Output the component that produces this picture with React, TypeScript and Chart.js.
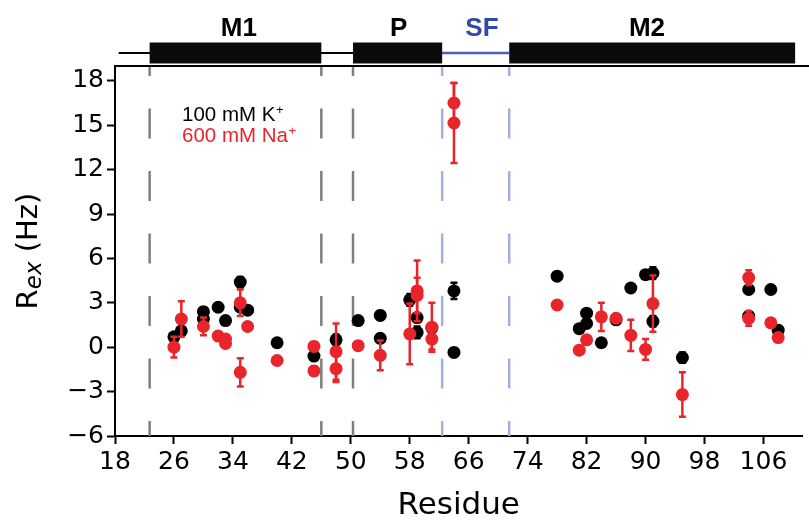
import React, { useEffect, useRef } from "react";
import { Chart, registerables } from "chart.js";

Chart.register(...registerables);

// ---- data ----
const xTicks = [18, 26, 34, 42, 50, 58, 66, 74, 82, 90, 98, 106];
const yTicks = [-6, -3, 0, 3, 6, 9, 12, 15, 18];

const kResidue = [26, 27, 30, 30, 32, 33, 35, 35, 36, 40, 45, 48, 51, 54, 54, 58, 59, 59, 61, 64, 64, 78, 81, 82, 82, 84, 86, 88, 90, 91, 91, 95, 104, 104, 107, 108];
const kRex = [0.7, 1.1, 2.4, 1.9, 2.7, 1.8, 4.4, 2.7, 2.5, 0.3, -0.6, 0.5, 1.8, 2.15, 0.6, 3.2, 2.0, 1.0, 1.3, 3.8, -0.35, 4.8, 1.25, 2.3, 1.6, 0.3, 1.85, 4.0, 4.9, 5.0, 1.75, -0.7, 3.9, 2.1, 3.9, 1.15];
const kErr = [0.2, 0.2, 0.3, 0.2, 0.15, 0.15, 0.35, 0.2, 0.15, 0.1, 0.15, 0.35, 0.1, 0.3, 0.25, 0.4, 0.3, 0.4, 0.3, 0.55, 0.25, 0.1, 0.1, 0.1, 0.1, 0.1, 0.1, 0.15, 0.1, 0.4, 0.35, 0.35, 0.1, 0.25, 0.1, 0.1];

const naResidue = [26, 27, 30, 32, 33, 33, 35, 35, 36, 40, 45, 45, 48, 48, 51, 54, 58, 59, 59, 61, 61, 64, 64, 78, 81, 82, 84, 86, 88, 90, 91, 95, 104, 104, 107, 108];
const naRex = [0.0, 1.9, 1.4, 0.75, 0.55, 0.25, 3.0, -1.7, 1.4, -0.9, 0.05, -1.6, -0.3, -1.45, 0.1, -0.55, 0.9, 3.8, 3.5, 1.35, 0.55, 16.5, 15.15, 2.85, -0.2, 0.5, 2.05, 1.95, 0.8, -0.15, 2.95, -3.2, 4.7, 1.95, 1.65, 0.65];
const naErr = [0.7, 1.2, 0.6, 0.15, 0.15, 0.15, 0.9, 0.95, 0.1, 0.1, 0.3, 0.3, 1.9, 0.9, 0.1, 1.0, 2.05, 2.05, 1.2, 1.65, 0.7, 1.35, 2.7, 0.1, 0.25, 0.15, 0.95, 0.1, 1.05, 0.7, 1.9, 1.5, 0.5, 0.5, 0.1, 0.1];

const greyBoundaries = [22.7, 46.0, 50.3];
const sfBoundaries = [62.4, 71.5];

const domainNames = ["M1", "P", "SF", "M2"];
const domainStart = [22.7, 50.3, 62.4, 71.5];
const domainEnd = [46.0, 62.4, 71.5, 110.3];
const domainLabelAt = [34.8, 56.5, 67.8, 90.2];
const sequenceStart = 18.5;

const seriesLabels = ["100 mM K", "600 mM Na"];

// ---- styles ----
const RED = "#e8252b";
const BLACK = "#000000";
const GREY = "#7f7f7f";
const LIGHTBLUE = "#a7addd";
const SFBLUE = "#3049a8";
const TICKFONT = "'DejaVu Sans', sans-serif";
const ARIAL = "'Liberation Sans', Arial, sans-serif";

const errorBarPlugin = {
  id: "errorBars",
  beforeDatasetDraw(chart: any, args: any) {
    const ds = chart.data.datasets[args.index];
    const errs: number[] | undefined = ds.errors;
    if (!errs) return;
    const xs = chart.scales.x;
    const ys = chart.scales.y;
    const ctx = chart.ctx;
    ctx.save();
    ctx.strokeStyle = ds.backgroundColor;
    ctx.lineWidth = 2.5;
    ds.data.forEach((p: any, i: number) => {
      const e = errs[i];
      if (!e) return;
      const px = xs.getPixelForValue(p.x);
      const top = ys.getPixelForValue(p.y + e);
      const bot = ys.getPixelForValue(p.y - e);
      ctx.beginPath();
      ctx.moveTo(px, top);
      ctx.lineTo(px, bot);
      ctx.moveTo(px - 3.5, top);
      ctx.lineTo(px + 3.5, top);
      ctx.moveTo(px - 3.5, bot);
      ctx.lineTo(px + 3.5, bot);
      ctx.stroke();
    });
    ctx.restore();
  },
};

const decorPlugin = {
  id: "decor",
  afterDraw(chart: any) {
    const ctx = chart.ctx;
    const area = chart.chartArea;
    const xs = chart.scales.x;
    const X = (v: number) => xs.getPixelForValue(v);
    ctx.save();

    // top spine
    ctx.strokeStyle = BLACK;
    ctx.lineWidth = 2;
    ctx.beginPath();
    ctx.moveTo(area.left - 1, area.top);
    ctx.lineTo(chart.width, area.top);
    ctx.stroke();

    // domain bar
    const lineY = 53;
    ctx.lineWidth = 2;
    ctx.strokeStyle = BLACK;
    ctx.beginPath();
    ctx.moveTo(X(sequenceStart), lineY);
    ctx.lineTo(X(domainStart[2]), lineY);
    ctx.stroke();
    ctx.strokeStyle = "#4a5fc0";
    ctx.lineWidth = 2.5;
    ctx.beginPath();
    ctx.moveTo(X(domainStart[2]), lineY);
    ctx.lineTo(X(domainEnd[2]), lineY);
    ctx.stroke();
    domainNames.forEach((name, i) => {
      const a = X(domainStart[i]);
      const b = X(domainEnd[i]);
      ctx.fillStyle = "#0a0a0a";
      if (name !== "SF") ctx.fillRect(a, 42.5, b - a, 21);
      ctx.font = `bold 26px ${ARIAL}`;
      ctx.textAlign = "center";
      ctx.textBaseline = "alphabetic";
      ctx.fillStyle = name === "SF" ? SFBLUE : BLACK;
      ctx.fillText(name, X(domainLabelAt[i]), 36);
    });

    // legend text
    const drawIon = (label: string, color: string, x: number, y: number) => {
      ctx.fillStyle = color;
      ctx.textAlign = "left";
      ctx.textBaseline = "alphabetic";
      ctx.font = `20.5px ${ARIAL}`;
      ctx.fillText(label, x, y);
      const w = ctx.measureText(label).width;
      ctx.font = `13px ${ARIAL}`;
      ctx.fillText("+", x + w + 0.5, y - 7);
    };
    drawIon(seriesLabels[0], BLACK, 182, 121);
    drawIon(seriesLabels[1], RED, 182, 142);

    // y title  R_ex (Hz)
    ctx.fillStyle = BLACK;
    ctx.translate(37, 251);
    ctx.rotate(-Math.PI / 2);
    ctx.textBaseline = "alphabetic";
    ctx.textAlign = "left";
    const big = `29px ${TICKFONT}`;
    const small = `italic 23px ${TICKFONT}`;
    ctx.font = big;
    const r = "R";
    const hz = " (Hz)";
    const rW = ctx.measureText(r).width;
    const hzW = ctx.measureText(hz).width;
    ctx.font = small;
    const exW = ctx.measureText("ex").width;
    const total = rW + exW + hzW;
    let cx = -total / 2;
    ctx.font = big;
    ctx.fillText(r, cx, 0);
    cx += rW;
    ctx.font = small;
    ctx.fillText("ex", cx, 4);
    cx += exW;
    ctx.font = big;
    ctx.fillText(hz, cx, 0);
    ctx.restore();
  },
};

function boundaryDataset(b: number, color: string) {
  return {
    data: [
      { x: b, y: 19 },
      { x: b, y: -6 },
    ],
    showLine: true,
    borderColor: color,
    borderWidth: 2.5,
    borderDash: [30, 32.5],
    borderDashOffset: 20,
    pointRadius: 0,
    order: 2,
  };
}

export default function App() {
  const ref = useRef<HTMLCanvasElement | null>(null);
  useEffect(() => {
    if (!ref.current) return;
    const chart = new Chart(ref.current, {
      type: "scatter",
      data: {
        datasets: [
          {
            label: "600 mM Na+",
            data: naResidue.map((x, i) => ({ x, y: naRex[i] })),
            backgroundColor: RED,
            borderWidth: 0,
            pointRadius: 6.5,
            pointHoverRadius: 6.5,
            order: 0,
            errors: naErr,
          } as any,
          {
            label: "100 mM K+",
            data: kResidue.map((x, i) => ({ x, y: kRex[i] })),
            backgroundColor: BLACK,
            borderWidth: 0,
            pointRadius: 6.5,
            pointHoverRadius: 6.5,
            order: 1,
            errors: kErr,
          } as any,
          ...greyBoundaries.map((b) => boundaryDataset(b, GREY)),
          ...sfBoundaries.map((b) => boundaryDataset(b, LIGHTBLUE)),
        ],
      },
      options: {
        animation: false,
        responsive: false,
        events: [],
        layout: { padding: { top: 66, right: 1, left: 0, bottom: 0 } },
        plugins: {
          legend: { display: false },
          tooltip: { enabled: false },
        },
        scales: {
          x: {
            type: "linear",
            min: 18,
            max: 111.3,
            afterBuildTicks: (s: any) => {
              s.ticks = xTicks.map((v) => ({ value: v }));
            },
            afterFit: (s: any) => {
              s.height = 85;
            },
            ticks: {
              font: { family: TICKFONT, size: 25 },
              color: BLACK,
              padding: 3,
              maxRotation: 0,
              autoSkip: false,
            },
            grid: {
              display: true,
              drawOnChartArea: false,
              drawTicks: true,
              tickLength: 8,
              tickWidth: 2,
              tickColor: BLACK,
            },
            border: { display: true, color: BLACK, width: 2 },
            title: {
              display: true,
              text: "Residue",
              color: BLACK,
              font: { family: TICKFONT, size: 31, lineHeight: 1.0 },
              padding: { top: 0, bottom: 0 },
            },
          },
          y: {
            type: "linear",
            min: -6,
            max: 19,
            afterBuildTicks: (s: any) => {
              s.ticks = yTicks.map((v) => ({ value: v }));
            },
            afterFit: (s: any) => {
              s.width = 115;
            },
            ticks: {
              font: { family: TICKFONT, size: 25 },
              color: BLACK,
              padding: 3,
              autoSkip: false,
              callback: (v: any) => (Number(v) < 0 ? "\u2212" + Math.abs(Number(v)) : String(v)),
            },
            grid: {
              display: true,
              drawOnChartArea: false,
              drawTicks: true,
              tickLength: 8,
              tickWidth: 2,
              tickColor: BLACK,
            },
            border: { display: true, color: BLACK, width: 2 },
          },
        },
      } as any,
      plugins: [errorBarPlugin, decorPlugin],
    });
    return () => chart.destroy();
  }, []);

  return (
    <div style={{ position: "fixed", left: 0, top: 0, width: 809, height: 521, background: "#fff" }}>
      <canvas ref={ref} width={809} height={521} style={{ width: 809, height: 521 }} />
    </div>
  );
}
